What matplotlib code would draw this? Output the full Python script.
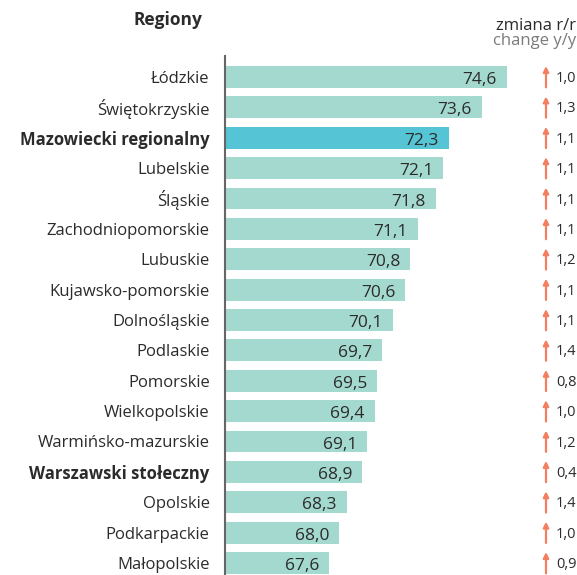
import matplotlib
matplotlib.use("Agg")
import matplotlib.pyplot as plt
from matplotlib.transforms import blended_transform_factory

plt.rcParams['font.family'] = ['Open Sans', 'DejaVu Sans']

regions = ["Łódzkie", "Świętokrzyskie", "Mazowiecki regionalny", "Lubelskie", "Śląskie",
           "Zachodniopomorskie", "Lubuskie", "Kujawsko-pomorskie", "Dolnośląskie", "Podlaskie",
           "Pomorskie", "Wielkopolskie", "Warmińsko-mazurskie", "Warszawski stołeczny",
           "Opolskie", "Podkarpackie", "Małopolskie"]
values = [74.6, 73.6, 72.3, 72.1, 71.8, 71.1, 70.8, 70.6, 70.1, 69.7, 69.5, 69.4, 69.1, 68.9, 68.3, 68.0, 67.6]
changes = [1.0, 1.3, 1.1, 1.1, 1.1, 1.1, 1.2, 1.1, 1.1, 1.4, 0.8, 1.0, 1.2, 0.4, 1.4, 1.0, 0.9]
bold_regions = ["Mazowiecki regionalny", "Warszawski stołeczny"]
highlight = "Mazowiecki regionalny"

W, H = 577, 575
fig = plt.figure(figsize=(W / 100, H / 100), dpi=100)
ax_left, ax_top, ax_right, ax_bottom = 225, 56, 577, 575
ax = fig.add_axes([ax_left / W, 1 - ax_bottom / H, (ax_right - ax_left) / W, (ax_bottom - ax_top) / H])

px_per_unit = 25.4
xmin = 63.5
ax.set_xlim(xmin, xmin + (ax_right - ax_left) / px_per_unit)
row0, spacing = 77, 30.375
ax.set_ylim((ax_bottom - row0) / spacing, (ax_top - row0) / spacing)

light = "#a4d9cf"
hl = "#55c4d4"
ys = list(range(len(regions)))
colors = [hl if r == highlight else light for r in regions]
ax.barh(ys, [v - xmin for v in values], left=xmin, height=0.72, color=colors, zorder=2)

for y, v in zip(ys, values):
    ax.text(v - 10 / px_per_unit, y + 0.1, f"{v:.1f}".replace(".", ","), ha="right", va="center",
            fontsize=12.5, color="#2b2b2b", zorder=3)

for s in ["top", "right", "bottom"]:
    ax.spines[s].set_visible(False)
ax.spines["left"].set_color("#666666")
ax.spines["left"].set_linewidth(1.5)
ax.set_xticks([])
ax.set_yticks(ys)
ax.set_yticklabels(regions, fontsize=12, color="#2b2b2b")
for lbl in ax.get_yticklabels():
    if lbl.get_text() in bold_regions:
        lbl.set_fontweight("bold")
ax.tick_params(axis="y", length=0, pad=11)

trans = blended_transform_factory(fig.transFigure, ax.transData)
arrow_x = 546 / W
for y, c in zip(ys, changes):
    ax.annotate("", xy=(arrow_x, y - 0.36), xytext=(arrow_x, y + 0.34),
                xycoords=trans, textcoords=trans,
                arrowprops=dict(arrowstyle="-|>", color="#f47f60", lw=1.6, mutation_scale=8,
                                shrinkA=0, shrinkB=0),
                annotation_clip=False)
    ax.text(556 / W, y + 0.05, f"{c:.1f}".replace(".", ","), transform=trans, ha="left", va="center",
            fontsize=10.5, color="#2b2b2b", clip_on=False)

fig.text(168 / W, 1 - 20 / H, "Regiony", ha="center", va="center", fontsize=12.5,
         fontweight="bold", color="#2b2b2b")
fig.text(576 / W, 1 - 26 / H, "zmiana r/r", ha="right", va="center", fontsize=12, color="#2b2b2b")
fig.text(576 / W, 1 - 41 / H, "change y/y", ha="right", va="center", fontsize=12, color="#7a7a7a")

fig.savefig("out.png", dpi=100)
